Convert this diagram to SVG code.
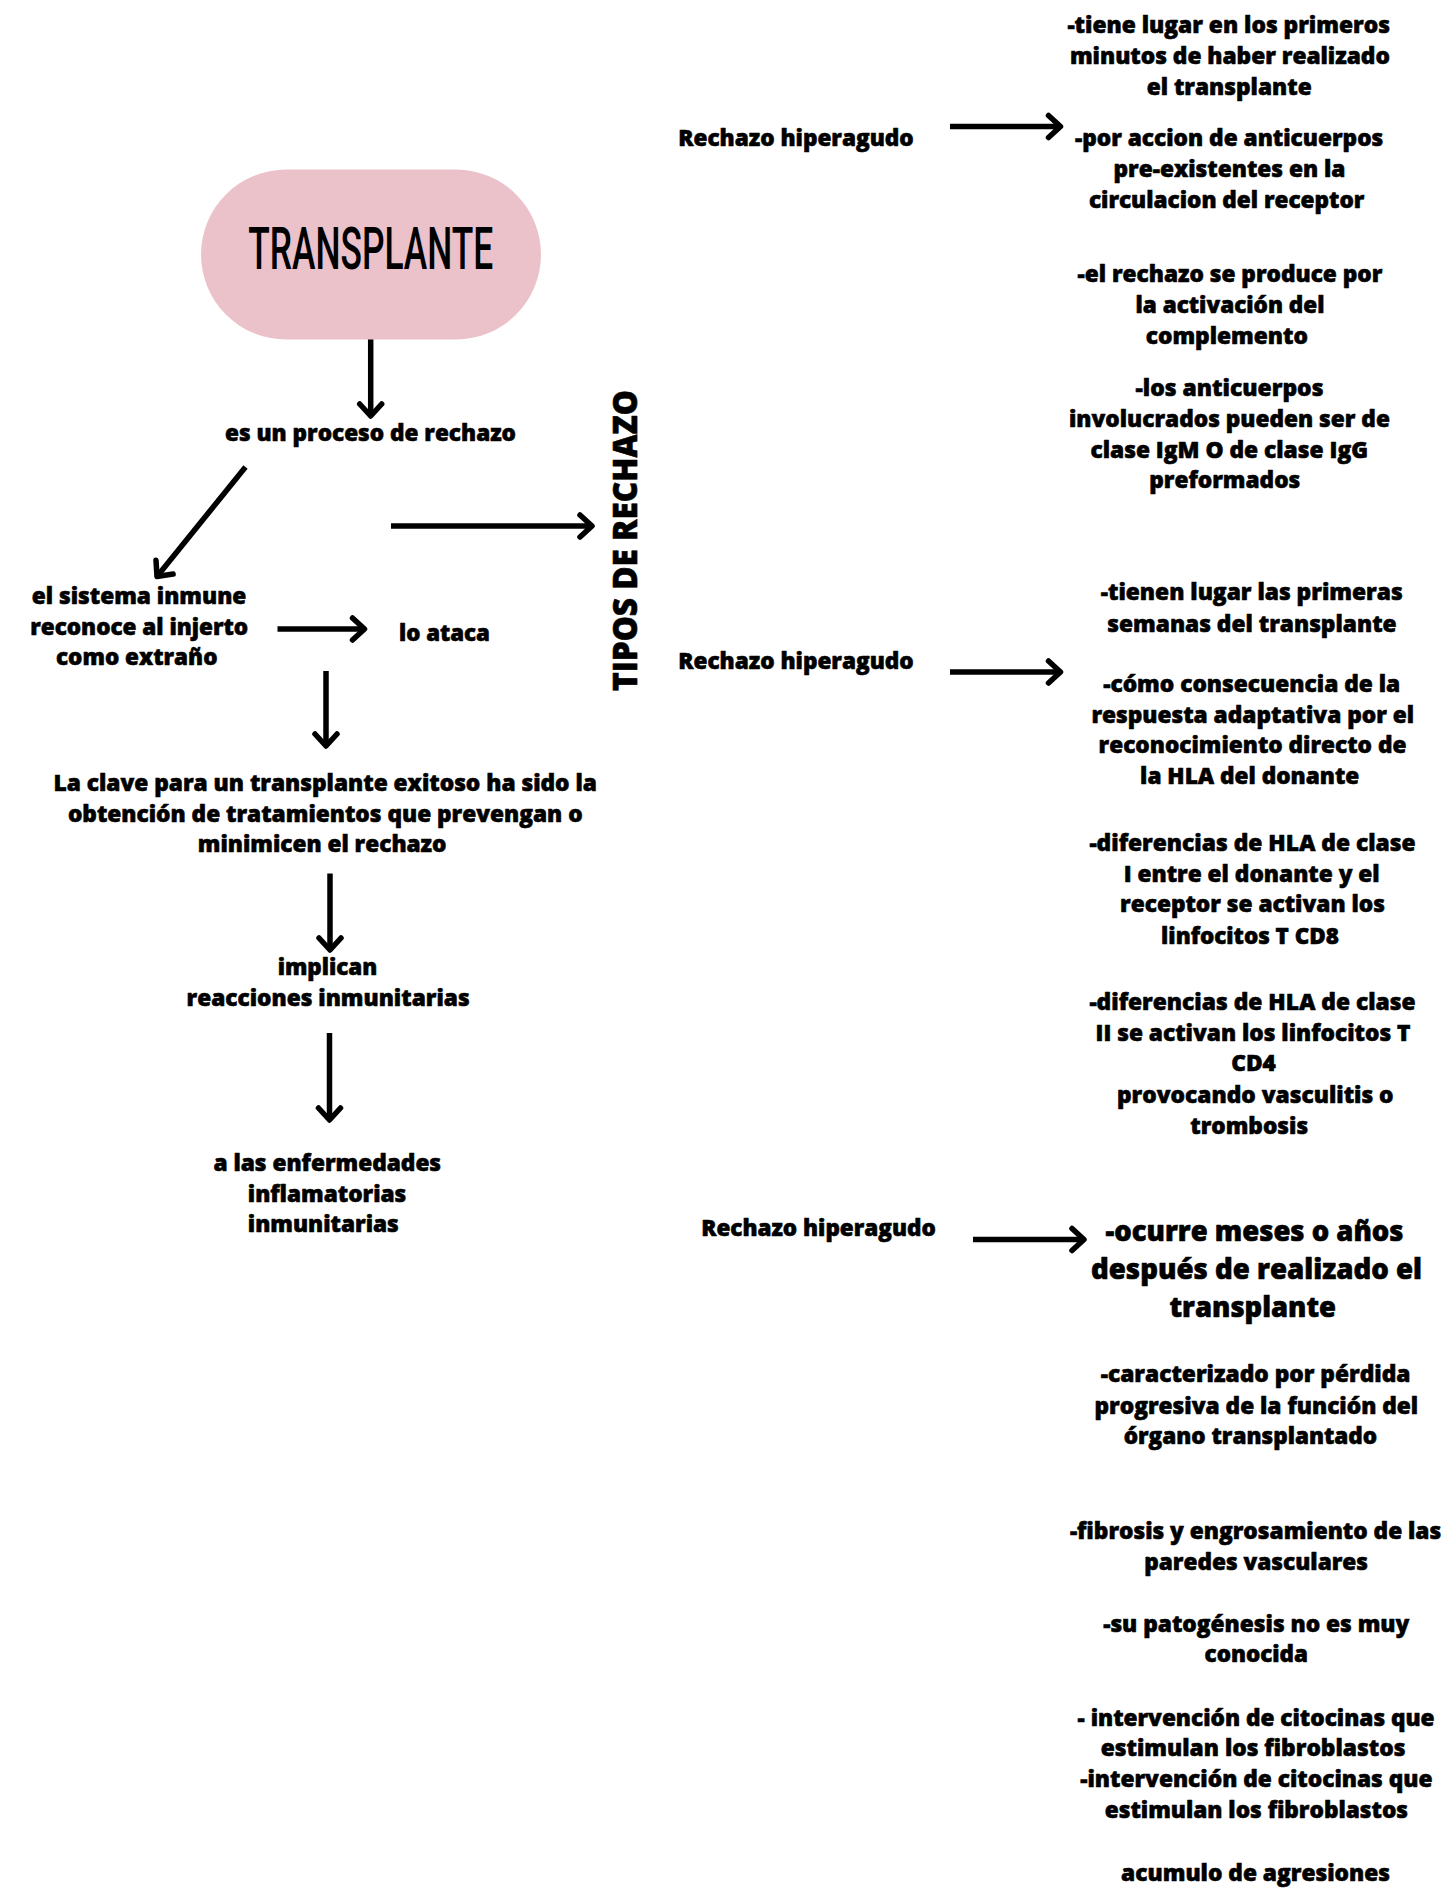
<svg xmlns="http://www.w3.org/2000/svg" width="1453" height="1889" viewBox="0 0 1453 1889">
<defs>
<style>
.t{font-family:"Open Sans","Noto Sans","Liberation Sans",sans-serif;font-weight:800;font-size:23px;fill:#000;stroke:#000;stroke-width:0.6;stroke-linejoin:round}
.big{font-size:27.5px}
.tipos{font-size:33px}
.title{font-family:Roboto,"Liberation Sans",sans-serif;font-weight:500;font-size:59px;fill:#000}
.c{stroke:#000;stroke-width:5.5;fill:none;stroke-linecap:butt}
</style>
<marker id="ah" markerUnits="userSpaceOnUse" markerWidth="40" markerHeight="40" viewBox="-20 -20 40 40" refX="0" refY="0" orient="auto">
<path d="M-12,-11 L0,0 L-12,11" fill="none" stroke="#000" stroke-width="5.5" stroke-linecap="round" stroke-linejoin="round"/>
</marker>
</defs>
<rect width="1453" height="1889" fill="#fff"/>

<g id="connectors">
<line class="c" x1="370.7" y1="339" x2="370.7" y2="416" marker-end="url(#ah)"/>
<line class="c" x1="245.5" y1="467" x2="157" y2="576.5" marker-end="url(#ah)"/>
<line class="c" x1="391" y1="526" x2="592" y2="526" marker-end="url(#ah)"/>
<line class="c" x1="277.5" y1="629" x2="364.5" y2="629" marker-end="url(#ah)"/>
<line class="c" x1="326" y1="671" x2="326" y2="746" marker-end="url(#ah)"/>
<line class="c" x1="330" y1="873.5" x2="330" y2="950" marker-end="url(#ah)"/>
<line class="c" x1="329.5" y1="1033" x2="329.5" y2="1120" marker-end="url(#ah)"/>
<line class="c" x1="950" y1="126.5" x2="1060.5" y2="126.5" marker-end="url(#ah)"/>
<line class="c" x1="950" y1="672" x2="1060.5" y2="672" marker-end="url(#ah)"/>
<line class="c" x1="973" y1="1239.5" x2="1084" y2="1239.5" marker-end="url(#ah)"/>
</g>

<g id="transplante">
<rect x="201" y="169.5" width="340" height="170" rx="85" ry="85" fill="#EBC2C9"/>
<text class="title" x="248.3" y="269" textLength="245" lengthAdjust="spacingAndGlyphs">TRANSPLANTE</text>
</g>

<g id="proceso">
<text class="t" x="225" y="441" textLength="291" lengthAdjust="spacingAndGlyphs">es un proceso de rechazo</text>
</g>

<g id="sistema-inmune">
<text class="t" x="31.8" y="603.8" textLength="214.5" lengthAdjust="spacingAndGlyphs">el sistema inmune</text>
<text class="t" x="30.2" y="634.5" textLength="218" lengthAdjust="spacingAndGlyphs">reconoce al injerto</text>
<text class="t" x="56" y="665" textLength="161.5" lengthAdjust="spacingAndGlyphs">como extraño</text>
</g>

<g id="lo-ataca">
<text class="t" x="399" y="640.8" textLength="91" lengthAdjust="spacingAndGlyphs">lo ataca</text>
</g>

<g id="tipos-de-rechazo">
<text class="t tipos" transform="translate(637,540.5) rotate(-90)" x="0" y="0" text-anchor="middle" textLength="301" lengthAdjust="spacingAndGlyphs">TIPOS DE RECHAZO</text>
</g>

<g id="clave">
<text class="t" x="53.6" y="791.3" textLength="543.3" lengthAdjust="spacingAndGlyphs">La clave para un transplante exitoso ha sido la</text>
<text class="t" x="67.9" y="821.5" textLength="514.7" lengthAdjust="spacingAndGlyphs">obtención de tratamientos que prevengan o</text>
<text class="t" x="197.8" y="852" textLength="248.7" lengthAdjust="spacingAndGlyphs">minimicen el rechazo</text>
</g>

<g id="implican">
<text class="t" x="277.7" y="975" textLength="99.6" lengthAdjust="spacingAndGlyphs">implican</text>
<text class="t" x="186.6" y="1006" textLength="283" lengthAdjust="spacingAndGlyphs">reacciones inmunitarias</text>
</g>

<g id="enfermedades">
<text class="t" x="213.4" y="1170.5" textLength="227.7" lengthAdjust="spacingAndGlyphs">a las enfermedades</text>
<text class="t" x="247.8" y="1202" textLength="158.5" lengthAdjust="spacingAndGlyphs">inflamatorias</text>
<text class="t" x="247.8" y="1232" textLength="151" lengthAdjust="spacingAndGlyphs">inmunitarias</text>
</g>

<g id="rechazo-1">
<text class="t" x="678.2" y="145.8" textLength="235.5" lengthAdjust="spacingAndGlyphs">Rechazo hiperagudo</text>
</g>

<g id="detalle-1">
<text class="t" x="1067.4" y="32.5" textLength="322.6" lengthAdjust="spacingAndGlyphs">-tiene lugar en los primeros</text>
<text class="t" x="1069.9" y="63.6" textLength="320" lengthAdjust="spacingAndGlyphs">minutos de haber realizado</text>
<text class="t" x="1146.7" y="94.8" textLength="165" lengthAdjust="spacingAndGlyphs">el transplante</text>
<text class="t" x="1075" y="145.8" textLength="308.3" lengthAdjust="spacingAndGlyphs">-por accion de anticuerpos</text>
<text class="t" x="1113.5" y="176.6" textLength="232" lengthAdjust="spacingAndGlyphs">pre-existentes en la</text>
<text class="t" x="1088.9" y="207.9" textLength="275.5" lengthAdjust="spacingAndGlyphs">circulacion del receptor</text>
<text class="t" x="1077.6" y="281.9" textLength="304.7" lengthAdjust="spacingAndGlyphs">-el rechazo se produce por</text>
<text class="t" x="1135.5" y="313" textLength="189" lengthAdjust="spacingAndGlyphs">la activación del</text>
<text class="t" x="1145.7" y="344" textLength="162.3" lengthAdjust="spacingAndGlyphs">complemento</text>
<text class="t" x="1135.5" y="395.8" textLength="188" lengthAdjust="spacingAndGlyphs">-los anticuerpos</text>
<text class="t" x="1068.9" y="427" textLength="321" lengthAdjust="spacingAndGlyphs">involucrados pueden ser de</text>
<text class="t" x="1090.4" y="458" textLength="277.6" lengthAdjust="spacingAndGlyphs">clase IgM O de clase IgG</text>
<text class="t" x="1149.3" y="488.3" textLength="151" lengthAdjust="spacingAndGlyphs">preformados</text>
</g>

<g id="rechazo-2">
<text class="t" x="678.2" y="668.5" textLength="235.5" lengthAdjust="spacingAndGlyphs">Rechazo hiperagudo</text>
</g>

<g id="detalle-2">
<text class="t" x="1100.7" y="600.1" textLength="302" lengthAdjust="spacingAndGlyphs">-tienen lugar las primeras</text>
<text class="t" x="1107.3" y="631.5" textLength="289.3" lengthAdjust="spacingAndGlyphs">semanas del transplante</text>
<text class="t" x="1103.2" y="691.8" textLength="297" lengthAdjust="spacingAndGlyphs">-cómo consecuencia de la</text>
<text class="t" x="1091.4" y="722.8" textLength="322.6" lengthAdjust="spacingAndGlyphs">respuesta adaptativa por el</text>
<text class="t" x="1098.6" y="753.2" textLength="307.8" lengthAdjust="spacingAndGlyphs">reconocimiento directo de</text>
<text class="t" x="1140.1" y="784.2" textLength="219.2" lengthAdjust="spacingAndGlyphs">la HLA del donante</text>
<text class="t" x="1089.4" y="850.8" textLength="326.2" lengthAdjust="spacingAndGlyphs">-diferencias de HLA de clase</text>
<text class="t" x="1123.7" y="881.8" textLength="256" lengthAdjust="spacingAndGlyphs">I entre el donante y el</text>
<text class="t" x="1120.1" y="912.3" textLength="264.8" lengthAdjust="spacingAndGlyphs">receptor se activan los</text>
<text class="t" x="1161.1" y="943.6" textLength="177.7" lengthAdjust="spacingAndGlyphs">linfocitos T CD8</text>
<text class="t" x="1089.4" y="1009.7" textLength="326.2" lengthAdjust="spacingAndGlyphs">-diferencias de HLA de clase</text>
<text class="t" x="1095.5" y="1040.6" textLength="315" lengthAdjust="spacingAndGlyphs">II se activan los linfocitos T</text>
<text class="t" x="1231.2" y="1071" textLength="44.6" lengthAdjust="spacingAndGlyphs">CD4</text>
<text class="t" x="1117" y="1103" textLength="276.6" lengthAdjust="spacingAndGlyphs">provocando vasculitis o</text>
<text class="t" x="1190.3" y="1134" textLength="117.8" lengthAdjust="spacingAndGlyphs">trombosis</text>
</g>

<g id="rechazo-3">
<text class="t" x="701.2" y="1236.3" textLength="234.6" lengthAdjust="spacingAndGlyphs">Rechazo hiperagudo</text>
</g>

<g id="detalle-3">
<text class="t big" x="1105.5" y="1240.5" textLength="298" lengthAdjust="spacingAndGlyphs">-ocurre meses o años</text>
<text class="t big" x="1091" y="1279" textLength="331" lengthAdjust="spacingAndGlyphs">después de realizado el</text>
<text class="t big" x="1169.5" y="1317" textLength="166.5" lengthAdjust="spacingAndGlyphs">transplante</text>
<text class="t" x="1100.7" y="1382" textLength="309.8" lengthAdjust="spacingAndGlyphs">-caracterizado por pérdida</text>
<text class="t" x="1094.5" y="1413.7" textLength="323.7" lengthAdjust="spacingAndGlyphs">progresiva de la función del</text>
<text class="t" x="1123.7" y="1444" textLength="253.5" lengthAdjust="spacingAndGlyphs">órgano transplantado</text>
<text class="t" x="1069.9" y="1538.5" textLength="371.3" lengthAdjust="spacingAndGlyphs">-fibrosis y engrosamiento de las</text>
<text class="t" x="1144.2" y="1569.5" textLength="223.8" lengthAdjust="spacingAndGlyphs">paredes vasculares</text>
<text class="t" x="1103.2" y="1632.3" textLength="306.2" lengthAdjust="spacingAndGlyphs">-su patogénesis no es muy</text>
<text class="t" x="1204.6" y="1662.3" textLength="103.4" lengthAdjust="spacingAndGlyphs">conocida</text>
<text class="t" x="1077.6" y="1725.7" textLength="357" lengthAdjust="spacingAndGlyphs">- intervención de citocinas que</text>
<text class="t" x="1100.7" y="1756" textLength="304.7" lengthAdjust="spacingAndGlyphs">estimulan los fibroblastos</text>
<text class="t" x="1080.2" y="1787" textLength="352.3" lengthAdjust="spacingAndGlyphs">-intervención de citocinas que</text>
<text class="t" x="1104.8" y="1818.4" textLength="303.2" lengthAdjust="spacingAndGlyphs">estimulan los fibroblastos</text>
<text class="t" x="1121.1" y="1881.4" textLength="268.9" lengthAdjust="spacingAndGlyphs">acumulo de agresiones</text>
</g>
</svg>
